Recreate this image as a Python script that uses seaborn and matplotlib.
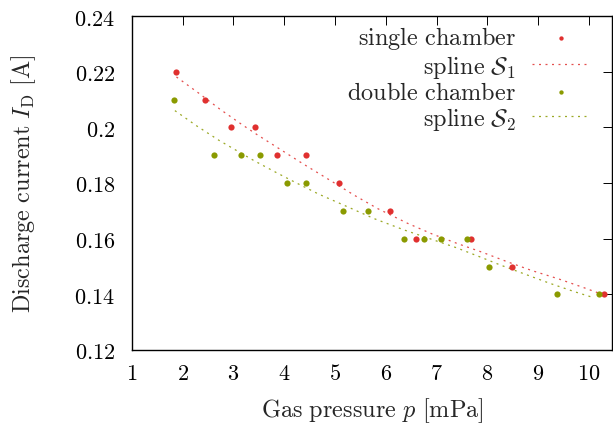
import matplotlib
matplotlib.use("Agg")
import matplotlib.pyplot as plt
import seaborn as sns
import pandas as pd

# measured points
p_single = [1.87, 2.44, 2.96, 3.43, 3.86, 4.42, 5.07, 6.08, 6.59, 7.68, 8.49, 10.30]
i_single = [0.22, 0.21, 0.20, 0.20, 0.19, 0.19, 0.18, 0.17, 0.16, 0.16, 0.15, 0.14]

p_double = [1.84, 2.61, 3.15, 3.53, 4.06, 4.42, 5.15, 5.64, 6.36, 6.75, 7.09, 7.60, 8.03, 9.37, 10.20]
i_double = [0.21, 0.19, 0.19, 0.19, 0.18, 0.18, 0.17, 0.17, 0.16, 0.16, 0.16, 0.16, 0.15, 0.14, 0.14]

# spline curves
s1_p = [1.88, 2.31, 2.73, 3.16, 3.49, 3.93, 4.37, 4.82, 5.38, 5.84, 6.43, 6.91, 7.40, 7.90, 8.39, 8.88, 9.39, 9.88, 10.12, 10.30]
s1_i = [0.2181, 0.2124, 0.2066, 0.2011, 0.1971, 0.1920, 0.1869, 0.1819, 0.1756, 0.1708, 0.1655, 0.1617, 0.1583, 0.1551, 0.1517,
        0.1485, 0.1456, 0.1425, 0.1409, 0.1398]

s2_p = [1.85, 2.28, 2.72, 3.40, 3.85, 4.21, 4.68, 5.29, 5.77, 6.38, 6.88, 7.38, 7.86, 8.23, 8.73, 9.22, 9.72, 10.09]
s2_i = [0.2060, 0.2005, 0.1953, 0.1881, 0.1837, 0.1803, 0.1760, 0.1711, 0.1672, 0.1630, 0.1599, 0.1568, 0.1534, 0.1507, 0.1473,
        0.1440, 0.1409, 0.1388]

x_ticks = [1, 2, 3, 4, 5, 6, 7, 8, 9, 10]
y_ticks = [0.12, 0.14, 0.16, 0.18, 0.20, 0.22, 0.24]
y_tick_labels = ["0.12", "0.14", "0.16", "0.18", "0.2", "0.22", "0.24"]

red = "#e0302f"
olive = "#8a9a00"

sns.set_style("white")
plt.rcParams["mathtext.fontset"] = "cm"
plt.rcParams["font.family"] = ["DejaVu Serif"]

fig = plt.figure(figsize=(6.13, 4.27), dpi=100)
ax = fig.add_axes([131.7 / 613, 1 - 351 / 427, (612 - 131.7) / 613, (351 - 17) / 427])

dotted = (0, (1.6, 3.6))

sns.scatterplot(x=p_single, y=i_single, color=red, s=20, linewidth=0, ax=ax,
                label=r"$\mathrm{single\ chamber}$", zorder=3)
sns.lineplot(x=s1_p, y=s1_i, color=red, lw=0.9, linestyle=dotted, alpha=0.85, ax=ax,
             label=r"$\mathrm{spline}\ \mathcal{S}_1$")
sns.scatterplot(x=p_double, y=i_double, color=olive, s=20, linewidth=0, ax=ax,
                label=r"$\mathrm{double\ chamber}$", zorder=3)
sns.lineplot(x=s2_p, y=s2_i, color=olive, lw=0.9, linestyle=dotted, alpha=0.85, ax=ax,
             label=r"$\mathrm{spline}\ \mathcal{S}_2$")

ax.set_xlim(1, 10.45)
ax.set_ylim(0.12, 0.24)
ax.set_xticks(x_ticks)
ax.set_xticklabels([f"${t}$" for t in x_ticks])
ax.set_yticks(y_ticks)
ax.set_yticklabels([f"${t}$" for t in y_tick_labels])
ax.tick_params(direction="in", length=6.5, width=0.7, top=True, right=True,
               labelsize=16, colors="black", pad=9)
ax.tick_params(axis="y", pad=12)
for sp in ax.spines.values():
    sp.set_color("black")
    sp.set_linewidth(1.0)

ax.set_xlabel(r"$\mathrm{Gas\ pressure}\ p\ [\mathrm{mPa}]$", fontsize=17.5, labelpad=8)
ax.set_ylabel(r"$\mathrm{Discharge\ current}\ I_\mathrm{D}\ [\mathrm{A}]$", fontsize=17.5, labelpad=26)

leg = ax.legend(loc="upper right", bbox_to_anchor=(0.955, 0.975), frameon=False, markerfirst=False,
                fontsize=17.5, handlelength=2.4, handletextpad=0.65, labelspacing=0.05,
                borderaxespad=0, borderpad=0, markerscale=0.7)

fig.savefig("out.png", dpi=100)
